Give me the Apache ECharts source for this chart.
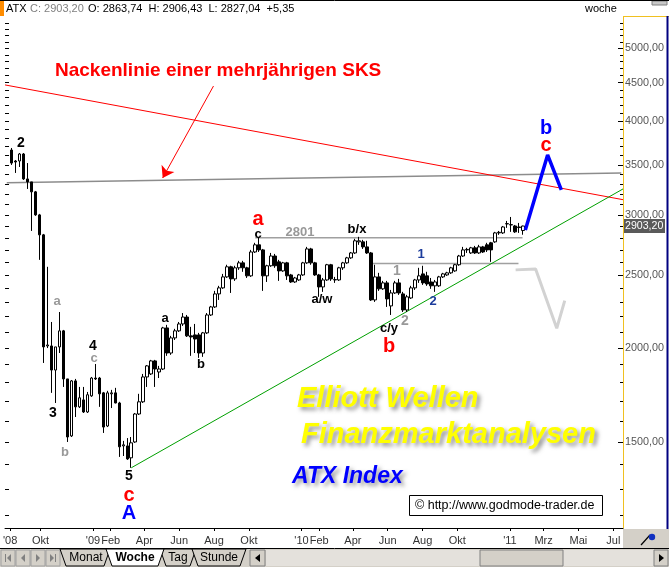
<!DOCTYPE html>
<html>
<head>
<meta charset="utf-8">
<script src="https://cdn.jsdelivr.net/npm/echarts@6.0.0/dist/echarts.min.js"></script>
<style>
html,body{margin:0;padding:0;background:#ffffff;}
#chart{width:669px;height:567px;}
</style>
</head>
<body>
<div id="chart"></div>
<script>
// ---------------- data (weekly ATX candles) ----------------
const firstWeek = '2008-08-11';
const opens = [3663,3542,3542,3619,3353,3323,3223,3004,2826,2012,
2012,1869,2006,2107,1819,1528,1808,1670,1706,1644,
1727,1824,1824,1743,1575,1738,1743,1690,1482,1482,
1429,1500,1634,1696,1830,1847,1922,1858,1875,2126,
1969,2062,2107,2152,2198,2075,2081,2081,1969,2094,
2212,2267,2359,2403,2485,2563,2470,2555,2594,2555,
2493,2682,2741,2699,2493,2571,2649,2602,2531,2594,
2500,2447,2462,2500,2594,2707,2594,2500,2410,2462,
2579,2462,2462,2555,2594,2634,2674,2766,2766,2724,
2674,2316,2485,2396,2440,2274,2366,2440,2359,2246,
2330,2403,2462,2508,2493,2447,2418,2418,2485,2500,
2516,2531,2579,2649,2699,2674,2716,2674,2724,2741,
2758,2766,2843,2843,2922,2913,2904,2895,2863.74];
const closes = [3520,3531,3619,3353,3323,3223,3004,2826,2006,2018,
1869,2006,2107,1819,1523,1808,1670,1717,1644,1733,
1824,1819,1738,1570,1743,1743,1690,1478,1487,1424,
1496,1634,1696,1830,1893,1922,1875,1875,2126,1969,
2062,2107,2152,2198,2075,2068,2055,1969,2094,2212,
2267,2359,2403,2485,2563,2470,2555,2594,2555,2493,
2682,2741,2699,2493,2571,2649,2571,2531,2594,2493,
2447,2477,2500,2594,2707,2594,2500,2410,2462,2579,
2470,2465,2555,2594,2634,2674,2775,2775,2724,2674,
2316,2485,2396,2440,2323,2366,2440,2366,2246,2338,
2403,2462,2493,2440,2432,2418,2447,2485,2508,2516,
2555,2579,2649,2699,2703,2716,2674,2724,2682,2699,
2699,2843,2848,2895,2925,2916,2852,2890,2903.20];
const lows = [3500,3415,3478,3343,3252,2860,2995,2618,1910,1999,
1743,1690,1969,1775,1500,1523,1619,1664,1639,1639,
1722,1813,1670,1542,1570,1664,1688,1433,1437,1420,
1386,1496,1629,1690,1775,1841,1775,1824,1869,1952,
1958,2049,2100,2139,2068,1952,1969,1940,1946,2087,
2205,2260,2316,2396,2477,2366,2455,2539,2524,2477,
2485,2674,2682,2381,2447,2563,2555,2455,2524,2462,
2440,2440,2455,2493,2586,2579,2493,2338,2374,2455,
2455,2440,2455,2539,2586,2626,2666,2741,2707,2666,
2309,2302,2381,2388,2267,2212,2359,2352,2232,2232,
2323,2388,2440,2425,2418,2396,2374,2410,2477,2493,
2508,2524,2571,2642,2674,2666,2666,2666,2674,2682,
2602,2758,2826,2834,2887,2852,2843,2843,2827.04];
const highs = [3686,3553,3630,3630,3520,3323,3232,3013,2834,2563,
2165,2006,2232,2113,1819,1813,1819,1775,1775,1748,
1830,1904,1830,1748,1754,1759,1770,1696,1505,1518,
1523,1639,1738,1847,1898,1928,1928,1893,2133,2146,
2075,2120,2165,2225,2212,2133,2152,2094,2100,2225,
2274,2381,2418,2508,2579,2571,2571,2610,2610,2563,
2699,2758,2801,2707,2579,2674,2666,2618,2602,2602,
2508,2485,2508,2602,2724,2716,2602,2508,2477,2586,
2586,2485,2563,2602,2642,2682,2792,2809,2783,2775,
2682,2579,2516,2455,2455,2388,2455,2470,2374,2352,
2418,2470,2555,2571,2524,2477,2462,2493,2516,2524,
2563,2586,2658,2724,2716,2724,2732,2741,2732,2758,
2766,2852,2860,2904,2949,2985,2913,2931,2906.43];

// x axis tick labels
const xTickDates = ['2008-08-09','2008-10-01','2009-01-01','2009-02-01','2009-04-01','2009-06-01','2009-08-01','2009-10-01',
  '2010-01-01','2010-02-01','2010-04-01','2010-06-01','2010-08-01','2010-10-01','2011-01-01','2011-03-01','2011-05-01','2011-07-01'];
const xTickLabels = ["'08",'Okt',"'09",'Feb','Apr','Jun','Aug','Okt',"'10",'Feb','Apr','Jun','Aug','Okt',"'11",'Mrz','Mai','Jul'];
// y axis tick labels
const yTickValues = [1500,2000,2500,3000,3500,4000,4500,5000];

// drawn lines (date, value)
const necklineRed = [['2008-07-31',4470],['2011-07-18',3147]];
const necklineGray = [['2008-08-03',3313],['2011-07-15',3415]];
const trendGreen = [['2009-03-09',1386],['2011-07-18',3252]];
const level2801 = [['2009-10-12',2801],['2011-01-23',2801]];
const levelWave1 = [['2010-05-01',2588],['2011-01-16',2588]];
const projGray = [['2011-01-11',2539],['2011-02-15',2545],['2011-03-24',2124],['2011-04-07',2311]];
const projBlue = [['2011-01-28',2869],['2011-03-08',3608],['2011-04-01',3242]];
const arrowRed = [['2009-07-31',4455],['2009-05-03',3363]];

// ---------------- helpers ----------------
const DAY = 86400000;
const d = s => { const p = s.split('-').map(Number); return Date.UTC(p[0], p[1]-1, p[2]); };
const weekDates = opens.map((_, i) => d(firstWeek) + i * 7 * DAY);
const candles = weekDates.map((t, i) => [t, opens[i], closes[i], lows[i], highs[i]]);
const pts = arr => arr.map(p => [d(p[0]), p[1]]);
const FONT = '"Liberation Sans", Arial, sans-serif';

const minorTicks = [];
for (let v = 1200; v <= 5400; v += 100) minorTicks.push(v);

function lineSeries(arr, color, width, z) {
  return { type:'line', data: pts(arr), symbol:'none', silent:true, z: z || 2,
    lineStyle:{ color, width }, animation:false };
}

function txt(text, x, y, color, size, extra) {
  return { type:'text', x, y, z:100, silent:true,
    style: Object.assign({ text, fill:color, font:'bold ' + size + 'px ' + FONT,
      align:'center', verticalAlign:'middle', textAlign:'center', textVerticalAlign:'middle' }, extra || {}) };
}
function ltxt(text, x, y, color, font, extra) {
  return { type:'text', x, y, z:100, silent:true,
    style: Object.assign({ text, fill:color, font: font,
      align:'left', verticalAlign:'middle', textAlign:'left', textVerticalAlign:'middle' }, extra || {}) };
}
function rect(x, y, w, h, fill, stroke, z) {
  return { type:'rect', z: z == null ? 90 : z, silent:true, shape:{x, y, width:w, height:h},
    style:{ fill, stroke: stroke || null, lineWidth:1 } };
}
function poly(points, fill, stroke, z) {
  return { type:'polygon', z: z == null ? 91 : z, silent:true, shape:{points}, style:{fill, stroke: stroke || null, lineWidth:1} };
}
function seg(x1, y1, x2, y2, color, w, z) {
  return { type:'line', z: z == null ? 95 : z, silent:true, shape:{x1, y1, x2, y2}, style:{stroke:color, lineWidth:w || 1} };
}

// wave labels [text, x, y, color, size]
const BLK = '#000000', GRY = '#999999', RED = '#ff0000', BLU = '#0000ff', NAVY = '#1c3c9c';
const waveLabels = [
  ['2',21,143,BLK,14], ['a',57,301,GRY,13], ['3',53,413,BLK,14], ['b',65,452,GRY,13],
  ['4',93,346,BLK,14], ['c',94,358,GRY,13], ['5',129,476,BLK,14], ['c',129,495,RED,20], ['A',129,513,BLU,20],
  ['a',165,318,BLK,13], ['b',201,364,BLK,13], ['a',258,219,RED,20], ['c',258,234,BLK,13],
  ['2801',300,232,GRY,13], ['b/x',357,229,BLK,13], ['a/w',322,299,BLK,13],
  ['1',421,254,NAVY,13], ['1',397,271,GRY,14], ['2',433,301,NAVY,13], ['2',405,321,GRY,14],
  ['c/y',389,328,BLK,13], ['b',389,346,RED,20], ['b',546,128,BLU,20], ['c',546,145,RED,20]
];

const shadow = { textShadowColor:'rgba(60,60,60,0.55)', textShadowBlur:4, textShadowOffsetX:3, textShadowOffsetY:3 };

const graphics = [];
// header
graphics.push(seg(0, 0.5, 669, 0.5, '#000', 1));
graphics.push(rect(0, 1, 4, 15, '#ff8c00', null));
graphics.push(ltxt('ATX', 6, 9, '#000', '11px ' + FONT));
graphics.push(ltxt('C: 2903,20', 30, 9, '#808080', '11px ' + FONT));
graphics.push(ltxt('O: 2863,74  H: 2906,43  L: 2827,04  +5,35', 88, 9, '#000', '11px ' + FONT));
graphics.push(ltxt('woche', 585, 9, '#000', '11px ' + FONT));
graphics.push(rect(652, 1, 15, 4, '#c8c8c8', '#808080'));
// right axis frame
graphics.push(seg(623, 16.5, 669, 16.5, '#f0c020', 1));
graphics.push(seg(667.5, 16, 667.5, 529, '#000080', 2));
// price box
graphics.push(rect(624, 219, 41, 14, '#5a5a5a', null, 96));
graphics.push(ltxt('2903,20', 625, 226, '#ffffff', '10.6px ' + FONT));
// x label strip bottom + corner cell
graphics.push(seg(0, 548.5, 669, 548.5, '#000', 1));
graphics.push(rect(623, 529, 46, 19, '#d4d0c8', null));
graphics.push(seg(641, 545, 650, 535, '#000', 1.2));
graphics.push({ type:'circle', z:96, silent:true, shape:{cx:652, cy:537, r:3.2}, style:{fill:'#1030c0'} });
// tab bar
graphics.push(rect(0, 549, 669, 18, '#d4d0c8', null, 80));
graphics.push(rect(266, 550, 388, 16, '#e4e1dc', null, 81));
graphics.push(rect(480, 550, 83, 16, '#d4d0c8', '#808080', 82));
graphics.push(rect(250, 550, 15, 16, '#d4d0c8', '#808080', 82));
graphics.push(poly([[255,558],[260,554],[260,562]], '#000', null, 83));
graphics.push(rect(654, 550, 14, 16, '#d4d0c8', '#808080', 82));
graphics.push(poly([[664,558],[659,554],[659,562]], '#000', null, 83));
[1,16,31,46].forEach(x => graphics.push(rect(x, 550, 14, 16, '#d4d0c8', '#a0a0a0', 82)));
graphics.push(seg(5.5, 554, 5.5, 562, '#808080', 1, 83));
graphics.push(poly([[7,558],[11,554],[11,562]], '#808080', null, 83));
graphics.push(poly([[21,558],[25,554],[25,562]], '#808080', null, 83));
graphics.push(poly([[40,558],[36,554],[36,562]], '#808080', null, 83));
graphics.push(poly([[54,558],[50,554],[50,562]], '#808080', null, 83));
graphics.push(seg(55.5, 554, 55.5, 562, '#808080', 1, 83));
graphics.push(poly([[60,549],[66,566],[104,566],[110,549]], '#d4d0c8', '#000', 84));
graphics.push(poly([[160,549],[166,566],[190,566],[196,549]], '#d4d0c8', '#000', 84));
graphics.push(poly([[192,549],[198,566],[240,566],[246,549]], '#d4d0c8', '#000', 84));
graphics.push(poly([[106,549],[112,566],[158,566],[164,549]], '#ffffff', '#000', 85));
graphics.push(txt('Monat', 86, 558, '#000', 12, { font:'12px ' + FONT }));
graphics.push(txt('Woche', 135, 558, '#000', 12, { font:'bold 12px ' + FONT }));
graphics.push(txt('Tag', 178, 558, '#000', 12, { font:'12px ' + FONT }));
graphics.push(txt('Stunde', 219, 558, '#000', 12, { font:'12px ' + FONT }));

// annotations
graphics.push(ltxt('Nackenlinie einer mehrjährigen SKS', 55, 71, RED, 'bold 19px ' + FONT));
waveLabels.forEach(w => graphics.push(txt(w[0], w[1], w[2], w[3], w[4])));
graphics.push(ltxt('Elliott Wellen', 297, 399, '#ffff00', 'italic bold 29px ' + FONT, shadow));
graphics.push(ltxt('Finanzmarktanalysen', 301, 435, '#ffff00', 'italic bold 29px ' + FONT, shadow));
graphics.push(ltxt('ATX Index', 292, 477, '#0000ff', 'italic bold 23px ' + FONT, shadow));
graphics.push(rect(409.5, 495.5, 193, 20, '#ffffff', '#000000', 97));
graphics.push(ltxt('\u00A9 http://www.godmode-trader.de', 415, 506, '#000', '12.5px ' + FONT));

const chart = echarts.init(document.getElementById('chart'), null, { renderer:'canvas', width:669, height:567 });

const option = {
  animation: false,
  backgroundColor: '#ffffff',
  grid: { left:3, right:46, top:17, bottom:39, containLabel:false },
  xAxis: {
    type:'value', min: d('2008-07-31'), max: d('2011-07-18'),
    splitLine:{show:false},
    axisLine:{ show:true, onZero:false, lineStyle:{ color:'#000', width:1 } },
    axisTick:{ show:true, length:3, customValues: xTickDates.map(d), lineStyle:{color:'#000'} },
    axisLabel:{ show:true, customValues: xTickDates.map(d), margin:7, color:'#333', fontSize:11, fontFamily: FONT,
      formatter: v => { const i = xTickDates.findIndex(s => Math.abs(d(s) - v) < DAY); return i >= 0 ? xTickLabels[i] : ''; } }
  },
  yAxis: [
    { type:'log', logBase:10, min:1153, max:5502, position:'right',
      splitLine:{show:false},
      axisLine:{ show:true, lineStyle:{ color:'#f0c020', width:1 } },
      axisTick:{ show:true, inside:true, length:3, customValues: minorTicks, lineStyle:{color:'#000'} },
      axisLabel:{ show:true, customValues: yTickValues, margin:2, color:'#555', fontSize:10.8, fontFamily: FONT,
        formatter: v => Math.round(v) + ',00' } },
    { type:'log', logBase:10, min:1153, max:5502, position:'right',
      splitLine:{show:false}, axisLine:{show:false},
      axisTick:{ show:true, inside:true, length:5, customValues: yTickValues, lineStyle:{color:'#000'} },
      axisLabel:{ show:false } },
    { type:'log', logBase:10, min:1153, max:5502, position:'left',
      splitLine:{show:false}, axisLine:{show:false},
      axisTick:{ show:true, inside:true, length:4, customValues: minorTicks, lineStyle:{color:'#000'} },
      axisLabel:{ show:false } }
  ],
  series: [
    lineSeries(necklineGray, '#8c8c8c', 1.5, 1),
    lineSeries(necklineRed, '#ff0000', 1, 2),
    lineSeries(trendGreen, '#00a000', 1, 2),
    lineSeries(level2801, '#a0a0a0', 1.5, 1),
    lineSeries(levelWave1, '#a0a0a0', 1.5, 1),
    lineSeries(projGray, '#d2d2d2', 3, 2),
    lineSeries(projBlue, '#0000ff', 3.5, 4),
    { type:'line', data:[], silent:true, z:4,
      markLine:{ silent:true, symbol:['none','arrow'], symbolSize:11, animation:false,
        label:{show:false}, lineStyle:{ color:'#ff0000', width:1, type:'solid' },
        data:[[ {coord:[d(arrowRed[0][0]), arrowRed[0][1]]}, {coord:[d(arrowRed[1][0]), arrowRed[1][1]]} ]] } },
    { type:'candlestick', data: candles, barWidth:3, z:3, silent:true,
      itemStyle:{ color:'#ffffff', color0:'#000000', borderColor:'#000000', borderColor0:'#000000', borderWidth:1 } }
  ],
  graphic: { elements: graphics }
};
chart.setOption(option);
</script>
</body>
</html>
